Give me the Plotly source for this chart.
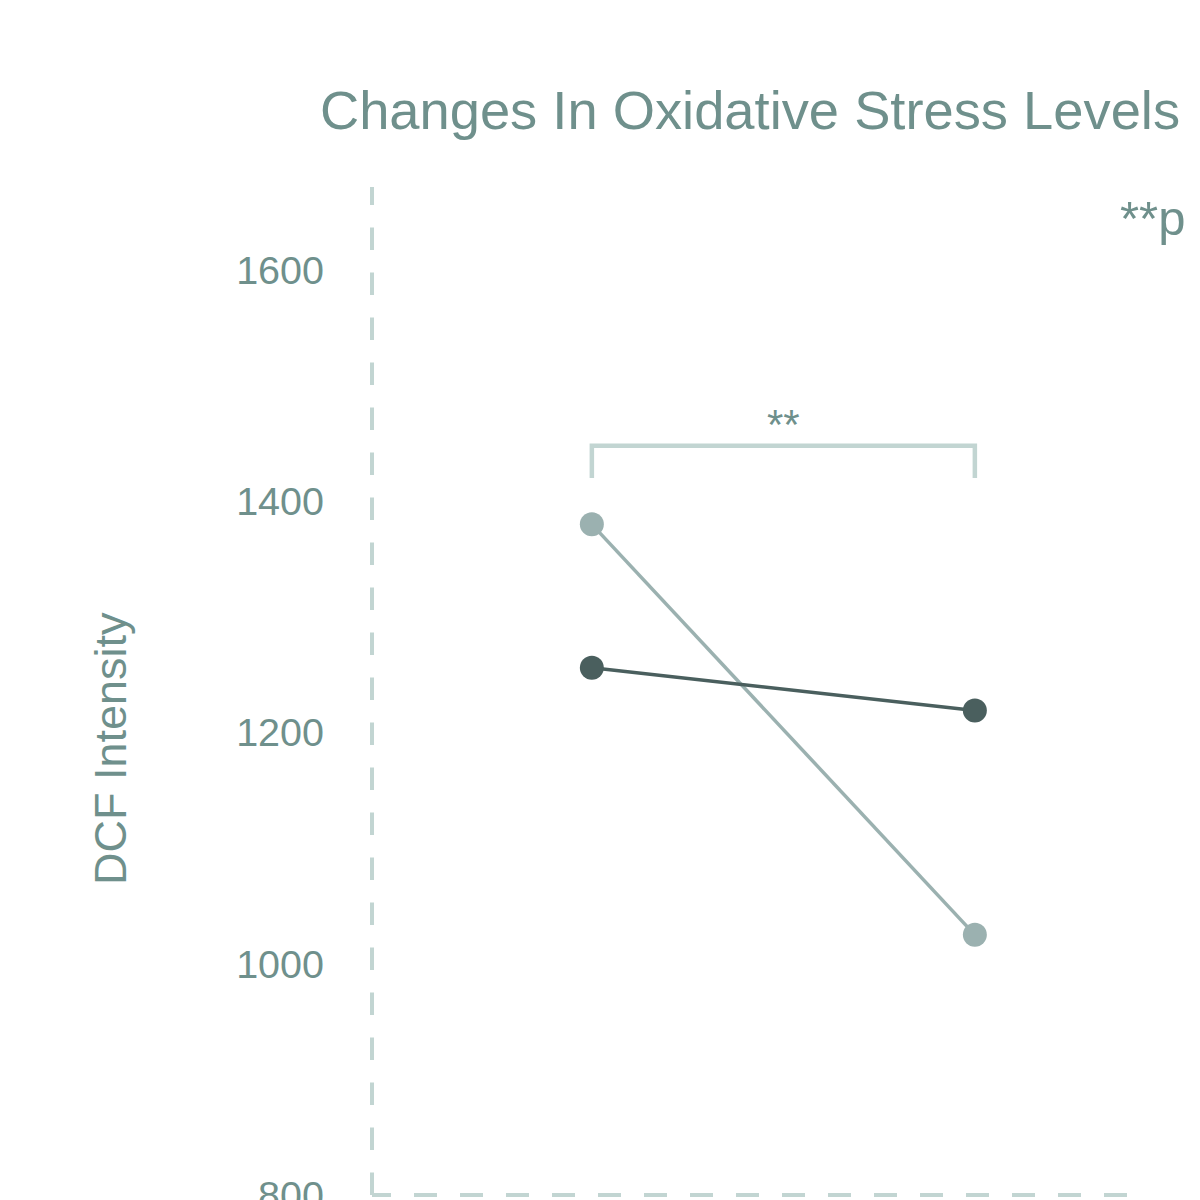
import plotly.graph_objects as go

# ---- data ----
categories = ["Baseline", "Post-Treatment"]
x_pos = [0, 1]
series_light_name = "Treatment"
series_light = [1380, 1025]
series_dark_name = "Control"
series_dark = [1256, 1219]
y_ticks = [800, 1000, 1200, 1400, 1600]
y_range = [800, 1673.5]
sig_label = "**"
sig_note = "**p < 0.01"
bracket_top = 1448
bracket_foot = 1420

# ---- style ----
TEXT = "#6f908c"
AXIS = "#c2d5d2"
DARK = "#4a5f5e"
LIGHT = "#9bb1b0"
FONT = "Liberation Sans, Arial, sans-serif"

W, H = 1500, 1500
ML, MR, MT, MB = 372, 375, 185, 305
PW, PH = W - ML - MR, H - MT - MB

def px_x(px):
    return (px - ML) / PW

def px_y(py):
    return (H - MB - py) / PH

fig = go.Figure()
fig.add_trace(go.Scatter(
    x=x_pos, y=series_light, name=series_light_name, mode="lines+markers",
    text=categories, hovertemplate="%{text}: %{y}<extra>" + series_light_name + "</extra>",
    line=dict(color=LIGHT, width=3.5), marker=dict(color=LIGHT, size=24),
    showlegend=False))
fig.add_trace(go.Scatter(
    x=x_pos, y=series_dark, name=series_dark_name, mode="lines+markers",
    text=categories, hovertemplate="%{text}: %{y}<extra>" + series_dark_name + "</extra>",
    line=dict(color=DARK, width=3.5), marker=dict(color=DARK, size=24),
    showlegend=False))

# dashed axis lines
fig.add_shape(type="line", xref="paper", yref="paper",
              x0=0, x1=0, y0=0, y1=px_y(187),
              line=dict(color=AXIS, width=4, dash="22.5px,22.5px"))
fig.add_shape(type="line", xref="paper", yref="paper",
              x0=px_x(1127), x1=0, y0=0, y1=0,
              line=dict(color=AXIS, width=4, dash="23px,23px"))

# significance bracket
fig.add_shape(type="path", xref="x", yref="y",
              path=f"M {x_pos[0]},{bracket_foot} L {x_pos[0]},{bracket_top} "
                   f"L {x_pos[1]},{bracket_top} L {x_pos[1]},{bracket_foot}",
              line=dict(color=AXIS, width=4.5))
fig.add_annotation(x=(x_pos[0] + x_pos[1]) / 2, y=bracket_top, xref="x", yref="y",
                   text=sig_label, showarrow=False, yanchor="bottom", yshift=-4,
                   font=dict(family=FONT, size=42, color=TEXT))

# y axis title
fig.add_annotation(x=px_x(110), y=px_y(749), xref="paper", yref="paper",
                   text="DCF Intensity", textangle=-90, showarrow=False,
                   xanchor="center", yanchor="middle",
                   font=dict(family=FONT, size=45, color=TEXT))
# note
fig.add_annotation(x=px_x(1118), y=px_y(218), xref="paper", yref="paper",
                   text=sig_note, showarrow=False, xanchor="left", yanchor="middle",
                   font=dict(family=FONT, size=49, color=TEXT))

fig.update_layout(
    width=W, height=H,
    margin=dict(l=ML, r=MR, t=MT, b=MB, pad=0),
    paper_bgcolor="white", plot_bgcolor="white",
    title=dict(text="Changes In Oxidative Stress Levels",
               x=0.5, xref="container", xanchor="center",
               y=(H - 110) / H, yref="container", yanchor="middle",
               font=dict(family=FONT, size=54.3, color=TEXT)),
    xaxis=dict(range=[-0.574, 1.392], tickvals=x_pos, ticktext=categories,
               showticklabels=False,
               showgrid=False, zeroline=False, showline=False, ticks="",
               tickfont=dict(family=FONT, size=35, color=TEXT)),
    yaxis=dict(range=y_range, tickvals=y_ticks, showgrid=False, zeroline=False,
               showline=False, ticks="", ticklabelstandoff=47,
               tickfont=dict(family=FONT, size=39.5, color=TEXT)),
    showlegend=False,
)

fig.write_html("out.html")
